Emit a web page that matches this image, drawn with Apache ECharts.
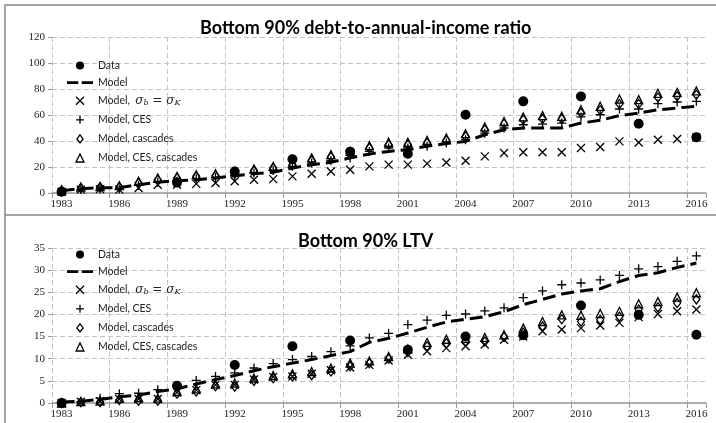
<!DOCTYPE html>
<html>
<head>
<meta charset="utf-8">
<script src="https://cdn.jsdelivr.net/npm/echarts@6/dist/echarts.min.js"></script>
<style>
  html, body { margin: 0; padding: 0; background: #fff; }
  #chart { width: 716px; height: 423px; }
</style>
</head>
<body>
<div id="chart"></div>
<script>
// Survey years on the category axis
const years = ['1983','1984','1985','1986','1987','1988','1989','1990','1991','1992','1993','1994',
  '1995','1996','1997','1998','1999','2000','2001','2002','2003','2004','2005','2006','2007','2008',
  '2009','2010','2011','2012','2013','2014','2015','2016'];

// Bottom 90% debt-to-annual-income ratio
const debtData = [1, null, null, null, null, null, 8, null, null, 16.6, null, null, 26, null, null, 31.8,
  null, null, 30.2, null, null, 60.2, null, null, 70.5, null, null, 74.3, null, null, 53.3, null, null, 42.8];
const debtModel = [1.8, 3.3, 4, 4, 6.4, 8.2, 9.5, 10.2, 11.5, 13.3, 14.8, 16, 19.2, 21.8, 23.6, 27, 30,
  32, 33.3, 36, 38, 39.7, 44.8, 48.7, 50, 50, 50, 53.8, 55.9, 59.5, 61.5, 64, 65.4, 66.7];
const debtSigma = [1, 2.6, 3, 2.6, 3.8, 6.4, 6.4, 7, 7.7, 9, 10.2, 10.7, 12.8, 14.8, 16.6, 17.9, 20.5,
  21.8, 21.8, 22.6, 23.4, 24.8, 28.2, 30.8, 31.3, 31.3, 31.3, 34.6, 35.4, 39.7, 38.9, 41, 41.5, 42.8];
const debtCES = [1, 2.6, 3, 3, 5.8, 8.2, 9, 11, 12, 13, 15.4, 17.4, 20.5, 23, 25, 27, 32,
  34.6, 34.6, 35.9, 38.5, 41, 46, 50, 52.5, 53, 53.8, 58.5, 60.2, 64.6, 64.6, 68.7, 70, 70.5];
const debtCascades = [1.8, 3.8, 4.4, 4.6, 7.7, 10.2, 11.5, 12.8, 13.5, 15, 17.4, 19.2, 21.8, 25, 27.7, 29.5, 34.6,
  37.2, 37.2, 38.5, 40.5, 43.5, 48.7, 53.3, 56.4, 57, 57, 61.5, 63.6, 68.5, 68.5, 73.5, 74.4, 75.6];
const debtCESCascades = [2.5, 4.6, 5, 5.6, 9, 11.5, 12.8, 14, 14.8, 16.5, 18.5, 20.5, 23, 27, 29.5, 32, 36.4,
  39, 39, 40.5, 42.3, 45.6, 50.8, 55, 58.5, 59.5, 59, 64, 66.7, 72.3, 71.8, 76.7, 77.4, 78.5];

// Bottom 90% LTV
const ltvData = [0, null, null, null, null, null, 3.9, null, null, 8.6, null, null, 12.8, null, null, 14.1,
  null, null, 12.0, null, null, 15, null, null, 15.3, null, null, 22, null, null, 19.9, null, null, 15.4];
const ltvModel = [0.2, 0.4, 0.8, 1.4, 1.8, 2.6, 3.2, 4.3, 5.3, 6.2, 7.3, 8.2, 9.0, 9.8, 10.7, 11.6, 13.7,
  14.6, 15.8, 17.1, 18.3, 18.9, 19.5, 20.6, 22.2, 23.4, 24.6, 25.3, 25.8, 27.4, 28.8, 29.4, 30.6, 31.6];
const ltvSigma = [0, 0.3, 0.4, 0.9, 0.9, 0.9, 2.4, 2.9, 4.1, 4.1, 5.3, 5.9, 6.0, 6.6, 7.4, 8.0, 8.6,
  9.6, 10.9, 11.7, 12.4, 12.8, 13.2, 14.3, 15, 16.2, 16.6, 16.9, 17.5, 18.1, 19.4, 20.1, 20.7, 21.1];
const ltvCES = [0, 0.3, 1.1, 2.1, 2.2, 3.0, 3.9, 5.1, 6.0, 6.8, 7.9, 8.9, 9.8, 10.5, 11.6, 12.9, 14.7,
  15.7, 17.7, 18.7, 19.8, 20.1, 20.8, 21.5, 23.8, 25.3, 26.7, 27.1, 27.8, 28.8, 30.3, 30.8, 32.0, 33.2];
const ltvCascades = [0, 0.2, 0.2, 0.7, 0.5, 0.5, 2.1, 2.6, 3.8, 3.7, 5.0, 5.6, 6.0, 6.3, 7.1, 8.3, 9.0,
  10.0, 11.5, 12.8, 13.5, 13.9, 13.9, 14.9, 15.9, 17.3, 18.9, 18.4, 18.8, 19.5, 21.1, 21.6, 22.6, 23.4];
const ltvCESCascades = [0, 0.3, 0.5, 1.1, 1.2, 1.1, 2.6, 3.2, 4.3, 4.5, 5.6, 6.2, 6.6, 7.1, 7.9, 9.0, 9.5,
  10.5, 12.2, 13.7, 14.4, 14.6, 14.8, 15.4, 16.9, 18.4, 19.9, 19.8, 20.2, 20.7, 22.4, 22.9, 23.9, 24.9];

// Panel titles and axis ranges
const panelTitles = ['Bottom 90% debt-to-annual-income ratio', 'Bottom 90% LTV'];
const yRanges = [[0, 120, 20], [0, 35, 5]];

// Series names
const NAME_DATA = 'Data';
const NAME_MODEL = 'Model';
const NAME_SIGMA = 'Model, σb = σK';
const NAME_CES = 'Model, CES';
const NAME_CASC = 'Model, cascades';
const NAME_CES_CASC = 'Model, CES, cascades';

const SYM_X = 'path://M0,0L10,10M10,0L0,10';
const SYM_PLUS = 'path://M5,0L5,10M0,5L10,5';
const SYM_DIAMOND = 'path://M3.5,0L7,4.5L3.5,9L0,4.5Z';
const SYM_TRIANGLE = 'path://M4,0L8,8L0,8Z';
const ICON_DASH = 'path://M0,0h13v3h-13zM17,0h13v3h-13z';

const hollow = { color: 'none', borderColor: '#000', borderWidth: 1.3, opacity: 1 };

function panelSeries(idx, d) {
  const ax = { xAxisIndex: idx, yAxisIndex: idx, silent: true, animation: false };
  return [
    Object.assign({ name: NAME_DATA, type: 'scatter', data: d[0], symbol: 'circle', symbolSize: 10,
      itemStyle: { color: '#000', opacity: 1 } }, ax),
    Object.assign({ name: NAME_MODEL, type: 'line', data: d[1], symbol: 'none',
      lineStyle: { color: '#000', width: 3, type: [13, 6] } }, ax),
    Object.assign({ name: NAME_SIGMA, type: 'scatter', data: d[2], symbol: SYM_X, symbolSize: 8,
      itemStyle: hollow }, ax),
    Object.assign({ name: NAME_CES, type: 'scatter', data: d[3], symbol: SYM_PLUS, symbolSize: 9,
      itemStyle: hollow }, ax),
    Object.assign({ name: NAME_CASC, type: 'scatter', data: d[4], symbol: SYM_DIAMOND, symbolSize: [7, 9],
      itemStyle: hollow }, ax),
    Object.assign({ name: NAME_CES_CASC, type: 'scatter', data: d[5], symbol: SYM_TRIANGLE, symbolSize: [8, 8],
      itemStyle: hollow }, ax)
  ];
}

const legendItems = [
  { name: NAME_DATA, icon: 'circle', itemStyle: { color: '#000', opacity: 1 } },
  { name: NAME_MODEL, icon: ICON_DASH, itemStyle: { color: '#000', opacity: 1 } },
  { name: NAME_SIGMA, icon: 'path://M0,0L8,8M8,0L0,8', itemStyle: hollow },
  { name: NAME_CES, icon: 'path://M4,0L4,8M0,4L8,4', itemStyle: hollow },
  { name: NAME_CASC, icon: SYM_DIAMOND, itemStyle: hollow },
  { name: NAME_CES_CASC, icon: SYM_TRIANGLE, itemStyle: hollow }
];

function makeLegend(top) {
  return {
    orient: 'vertical', left: 62, top: top, itemWidth: 26, itemHeight: 8, itemGap: 6.1,
    selectedMode: false, data: legendItems,
    formatter: function (name) {
      if (name === NAME_SIGMA) return '{n|Model,  }{m|σ}{s|b}{m| = σ}{s|K}';
      return '{n|' + name + '}';
    },
    textStyle: {
      color: '#222', fontFamily: 'Lato', fontSize: 10.5,
      rich: {
        n: { fontFamily: 'Lato', fontSize: 10.5, color: '#222' },
        m: { fontFamily: 'DejaVu Serif', fontStyle: 'italic', fontSize: 12, color: '#222' },
        s: { fontFamily: 'DejaVu Serif', fontStyle: 'italic', fontSize: 8,
             verticalAlign: 'bottom', padding: [4, 0, 0, 0], color: '#222' }
      }
    }
  };
}

function makeXAxis(idx) {
  return {
    type: 'category', gridIndex: idx, data: years, boundaryGap: true,
    axisLine: { lineStyle: { color: '#9a9a9a', width: 1.5 } },
    axisTick: { show: true, interval: 2, length: 5, lineStyle: { color: '#9a9a9a' } },
    axisLabel: { interval: 2, margin: 6, color: '#222', fontFamily: 'Liberation Serif', fontSize: 11 },
    splitLine: { show: true, interval: 2, showMaxLine: false,
      lineStyle: { color: '#c4c4c4', type: [5, 3], width: 1 } }
  };
}

function makeYAxis(idx) {
  const r = yRanges[idx];
  return {
    type: 'value', gridIndex: idx, min: r[0], max: r[1], interval: r[2],
    axisLine: { show: false },
    axisTick: { show: true, length: 4, lineStyle: { color: '#9a9a9a' } },
    axisLabel: { margin: 7, color: '#222', fontFamily: 'Liberation Serif', fontSize: 11 },
    splitLine: { show: true, lineStyle: { color: '#c4c4c4', type: [5, 3], width: 1 } }
  };
}

const chart = echarts.init(document.getElementById('chart'), null, { renderer: 'canvas' });
chart.setOption({
  backgroundColor: '#fff',
  animation: false,
  title: [
    { text: panelTitles[0], left: 195, top: 14,
      textStyle: { fontFamily: 'Lato', fontWeight: 'bold', fontSize: 18, color: '#000' } },
    { text: panelTitles[1], left: 293, top: 227,
      textStyle: { fontFamily: 'Lato', fontWeight: 'bold', fontSize: 18, color: '#000' } }
  ],
  legend: [makeLegend(55), makeLegend(244)],
  grid: [
    { left: 52, right: 10, top: 37, height: 156 },
    { left: 52, right: 10, top: 248, height: 155 }
  ],
  xAxis: [makeXAxis(0), makeXAxis(1)],
  yAxis: [makeYAxis(0), makeYAxis(1)],
  series: panelSeries(0, [debtData, debtModel, debtSigma, debtCES, debtCascades, debtCESCascades])
    .concat(panelSeries(1, [ltvData, ltvModel, ltvSigma, ltvCES, ltvCascades, ltvCESCascades])),
  graphic: [
    { type: 'rect', silent: true, z: 100,
      shape: { x: 5, y: 5, width: 730, height: 440 },
      style: { fill: 'none', stroke: '#888', lineWidth: 1.5 } },
    { type: 'line', silent: true, z: 100,
      shape: { x1: 5, y1: 215, x2: 716, y2: 215 },
      style: { stroke: '#888', lineWidth: 1.5 } }
  ]
});
</script>
</body>
</html>
